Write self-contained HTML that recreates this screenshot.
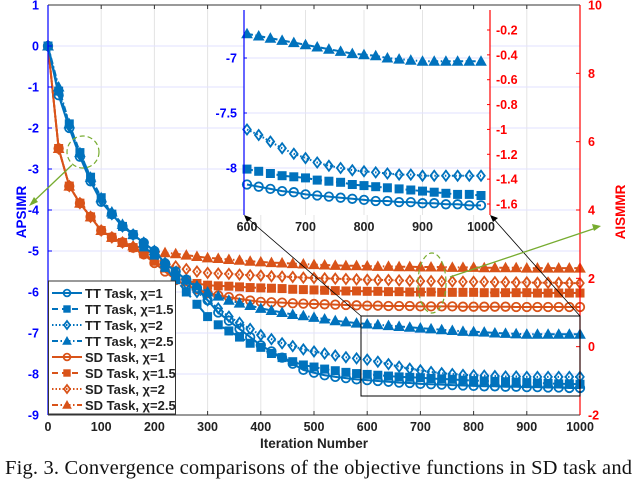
<!DOCTYPE html>
<html><head><meta charset="utf-8"><style>
body{margin:0;background:#fff;width:640px;height:480px;overflow:hidden}
svg{font-family:"Liberation Sans",sans-serif}
</style></head><body>
<svg id="chart" width="640" height="480" viewBox="0 0 640 480" xmlns="http://www.w3.org/2000/svg">
<g id="grid"></g>
<g id="series"></g>
<g id="axes"></g>
<g id="inset"></g>
<g id="legend"></g>
<g>
<rect x="361" y="316" width="219" height="80" fill="none" stroke="#000" stroke-width="1"/>
<line x1="361" y1="316" x2="246" y2="217" stroke="#000" stroke-width="0.8"/>
<line x1="580" y1="316" x2="492" y2="217" stroke="#000" stroke-width="0.8"/>
<polygon points="244,215 252,218 247,222" fill="#000"/>
<polygon points="490,215 498,218 493,222" fill="#000"/>
<ellipse cx="83" cy="152" rx="16" ry="16" fill="none" stroke="#77AC30" stroke-width="1.2" stroke-dasharray="5,3"/>
<line x1="72" y1="165" x2="33" y2="202" stroke="#77AC30" stroke-width="1.3"/>
<polygon points="29,206 34,197 38,202" fill="#77AC30"/>
<ellipse cx="432" cy="283" rx="14" ry="30" fill="none" stroke="#77AC30" stroke-width="1.2" stroke-dasharray="5,3"/>
<line x1="450" y1="277" x2="596" y2="228" stroke="#77AC30" stroke-width="1.3"/>
<polygon points="601,226 592,224 594,231" fill="#77AC30"/>
</g>
<text transform="translate(26,212) rotate(-90)" text-anchor="middle" font-size="13.5" font-weight="bold" fill="#0000FF">APSIMR</text>
<text transform="translate(625,212) rotate(-90)" text-anchor="middle" font-size="13.5" font-weight="bold" fill="#FF0000">AISMMR</text>
<text x="314" y="448" text-anchor="middle" font-size="13.5" font-weight="bold" fill="#222">Iteration Number</text>
<text x="5" y="474" font-family="Liberation Serif, serif" font-size="20.5" fill="#111" textLength="627" lengthAdjust="spacing">Fig. 3.  Convergence comparisons of the objective functions in SD task and</text>
</svg>
<script>
const iterations=[0,20,40,60,80,100,120,140,160,180,200,220,240,260,280,300,320,340,360,380,400,420,440,460,480,500,520,540,560,580,600,620,640,660,680,700,720,740,760,780,800,820,840,860,880,900,920,940,960,980,1000];
const tt1=[0,-1.2,-2.0,-2.7,-3.3,-3.8,-4.1,-4.4,-4.6,-4.8,-5.0,-5.3,-5.5,-5.7,-5.9,-6.2,-6.5,-6.7,-6.9,-7.1,-7.3,-7.45,-7.6,-7.75,-7.9,-7.97,-8.03,-8.07,-8.1,-8.13,-8.15,-8.17,-8.19,-8.21,-8.22,-8.24,-8.25,-8.26,-8.27,-8.28,-8.29,-8.3,-8.3,-8.31,-8.31,-8.32,-8.32,-8.33,-8.33,-8.34,-8.34];
const tt15=[0,-1.1,-1.9,-2.6,-3.2,-3.7,-4.1,-4.4,-4.6,-4.9,-5.1,-5.4,-5.7,-6.0,-6.3,-6.6,-6.8,-6.95,-7.1,-7.25,-7.35,-7.5,-7.6,-7.7,-7.78,-7.83,-7.88,-7.92,-7.96,-7.99,-8.01,-8.03,-8.05,-8.07,-8.08,-8.09,-8.11,-8.12,-8.13,-8.15,-8.16,-8.17,-8.18,-8.19,-8.2,-8.21,-8.22,-8.23,-8.24,-8.24,-8.25];
const tt2=[0,-1.1,-1.95,-2.65,-3.25,-3.75,-4.1,-4.4,-4.6,-4.8,-5.0,-5.3,-5.55,-5.8,-6.0,-6.2,-6.4,-6.6,-6.75,-6.9,-7.05,-7.15,-7.25,-7.32,-7.4,-7.45,-7.5,-7.55,-7.59,-7.62,-7.65,-7.7,-7.76,-7.82,-7.87,-7.91,-7.95,-7.98,-8.0,-8.02,-8.03,-8.04,-8.05,-8.06,-8.06,-8.07,-8.07,-8.07,-8.07,-8.07,-8.07];
const tt25=[0,-1.0,-1.9,-2.6,-3.2,-3.7,-4.05,-4.35,-4.6,-4.8,-5.0,-5.3,-5.5,-5.7,-5.85,-6.0,-6.1,-6.2,-6.27,-6.33,-6.4,-6.45,-6.5,-6.55,-6.58,-6.62,-6.66,-6.7,-6.73,-6.76,-6.78,-6.8,-6.82,-6.84,-6.86,-6.88,-6.9,-6.92,-6.94,-6.96,-6.97,-6.98,-7.0,-7.01,-7.02,-7.03,-7.03,-7.03,-7.03,-7.03,-7.03];
const sd1=[8.8,5.8,4.7,4.2,3.8,3.4,3.2,3.05,2.9,2.7,2.45,2.2,1.95,1.8,1.68,1.57,1.5,1.45,1.4,1.35,1.31,1.3,1.29,1.27,1.26,1.25,1.24,1.23,1.22,1.21,1.2,1.2,1.19,1.19,1.19,1.18,1.18,1.18,1.18,1.17,1.17,1.17,1.17,1.17,1.16,1.16,1.16,1.16,1.16,1.16,1.16];
const sd15=[8.8,5.8,4.7,4.2,3.8,3.4,3.2,3.05,2.9,2.72,2.5,2.3,2.1,1.95,1.85,1.8,1.78,1.77,1.75,1.73,1.72,1.71,1.7,1.68,1.67,1.66,1.65,1.64,1.63,1.63,1.62,1.62,1.61,1.61,1.6,1.6,1.6,1.59,1.59,1.59,1.59,1.58,1.58,1.58,1.58,1.58,1.57,1.57,1.57,1.57,1.57];
const sd2=[8.8,5.8,4.7,4.2,3.8,3.4,3.2,3.05,2.92,2.75,2.6,2.45,2.35,2.27,2.2,2.16,2.14,2.13,2.11,2.09,2.08,2.06,2.05,2.04,2.02,2.01,2.0,1.99,1.98,1.97,1.96,1.95,1.95,1.94,1.93,1.92,1.92,1.91,1.91,1.9,1.9,1.9,1.89,1.89,1.88,1.88,1.87,1.87,1.87,1.86,1.86];
const sd25=[8.8,5.8,4.7,4.2,3.8,3.4,3.2,3.05,2.95,2.87,2.8,2.75,2.72,2.68,2.64,2.6,2.58,2.55,2.53,2.5,2.48,2.46,2.45,2.43,2.42,2.4,2.39,2.38,2.37,2.37,2.36,2.35,2.35,2.34,2.34,2.33,2.33,2.33,2.32,2.32,2.32,2.31,2.31,2.31,2.31,2.3,2.3,2.3,2.3,2.3,2.3];
const xTicks=[0,100,200,300,400,500,600,700,800,900,1000];
const yLeftTicks=[1,0,-1,-2,-3,-4,-5,-6,-7,-8,-9];
const yRightTicks=[10,8,6,4,2,0,-2];
const insetXTicks=[600,700,800,900,1000];
const insetYLeftTicks=[-7,-7.5,-8];
const insetYRightTicks=[-0.2,-0.4,-0.6,-0.8,-1,-1.2,-1.4,-1.6];

const NS='http://www.w3.org/2000/svg';
const BLUE='#0072BD',ORANGE='#D95319';
const X0=48,X1=580,YT=5,YB=415;
const xs=v=>X0+(v/1000)*(X1-X0);
const yl=v=>YT+(1-v)/10*(YB-YT);
const yr=v=>YT+(10-v)/12*(YB-YT);
const IX0=244,IX1=490,IYT=10,IYB=215;
const ixs=v=>247+(v-600)/400*234;
const iyl=v=>58+(-7-v)*110;
const iyr=v=>30+(-0.2-v)/1.4*174;
const FS=12.5;
function mk(tag,attrs,parent){const e=document.createElementNS(NS,tag);for(const k in attrs)e.setAttribute(k,attrs[k]);parent.appendChild(e);return e;}
const grid=document.getElementById('grid'),axes=document.getElementById('axes'),ser=document.getElementById('series'),ins=document.getElementById('inset'),leg=document.getElementById('legend');

xTicks.forEach(t=>{const x=xs(t);
 if(t>0&&t<1000){const g=mk('line',{x1:x,y1:YT,x2:x,y2:YB,stroke:'#e4e4e4','stroke-width':1},grid);}
 mk('line',{x1:x,y1:YB,x2:x,y2:YB-4,stroke:'#333'},axes);mk('line',{x1:x,y1:YT,x2:x,y2:YT+4,stroke:'#333'},axes);
 const tx=mk('text',{x:x,y:YB+16,'text-anchor':'middle','font-size':FS,'font-weight':'bold',fill:'#222'},axes);tx.textContent=t;
 });
yLeftTicks.forEach(t=>{const y=yl(t);
 if(t<1&&t>-9){const g=mk('line',{x1:X0,y1:y,x2:X1,y2:y,stroke:'#e2e2ff','stroke-width':1},grid);}
 mk('line',{x1:X0,y1:y,x2:X0+4,y2:y,stroke:'#0000FF'},axes);
 const tx=mk('text',{x:X0-9,y:y+4.5,'text-anchor':'end','font-size':FS,'font-weight':'bold',fill:'#0000FF'},axes);tx.textContent=t;
 });
yRightTicks.forEach(t=>{const y=yr(t);
 mk('line',{x1:X1,y1:y,x2:X1-4,y2:y,stroke:'#FF0000'},axes);
 const tx=mk('text',{x:X1+8,y:y+4.5,'font-size':FS,'font-weight':'bold',fill:'#FF0000'},axes);tx.textContent=t;
 });
mk('line',{x1:X0,y1:YT,x2:X1,y2:YT,stroke:'#333'},axes);
mk('line',{x1:X0,y1:YB,x2:X1,y2:YB,stroke:'#333'},axes);
mk('line',{x1:X0,y1:YT,x2:X0,y2:YB,stroke:'#0000FF','stroke-width':1.2},axes);
mk('line',{x1:X1,y1:YT,x2:X1,y2:YB,stroke:'#FF0000','stroke-width':1.2},axes);

const dashes={solid:'',dash:'6,4',dot:'1.5,2',dashdot:'6,2.5,1.5,2.5'};
function marker(type,x,y,col,parent,s){
 let e;
 if(type==='circle')e=mk('circle',{cx:x,cy:y,r:s*0.85,fill:'none',stroke:col,'stroke-width':1.8},parent);
 else if(type==='square')e=mk('rect',{x:x-s*0.8,y:y-s*0.8,width:s*1.6,height:s*1.6,fill:col,stroke:col},parent);
 else if(type==='diamond')e=mk('polygon',{points:`${x},${y-s} ${x+s*0.75},${y} ${x},${y+s} ${x-s*0.75},${y}`,fill:'none',stroke:col,'stroke-width':1.8},parent);
 else e=mk('polygon',{points:`${x},${y-s} ${x+s},${y+s*0.8} ${x-s},${y+s*0.8}`,fill:col,stroke:col},parent);
 return e;}
function drawSeries(vals,fx,fy,col,dash,mtype,parent,name,s,start){
 const g=mk('g',{},parent);
 const pts=[];
 iterations.forEach((it,i)=>{if(it>=start&&vals[i]!==undefined)pts.push([fx(it),fy(vals[i])]);});
 mk('polyline',{points:pts.map(p=>p.join(',')).join(' '),fill:'none',stroke:col,'stroke-width':2,'stroke-dasharray':dashes[dash]},g);
 pts.forEach(p=>marker(mtype,p[0],p[1],col,g,s));}
const defs=[
 [sd1,yr,ORANGE,'solid','circle','sd-chi-1'],[sd15,yr,ORANGE,'dash','square','sd-chi-1-5'],[sd2,yr,ORANGE,'dot','diamond','sd-chi-2'],[sd25,yr,ORANGE,'dashdot','triangle','sd-chi-2-5'],
 [tt1,yl,BLUE,'solid','circle','tt-chi-1'],[tt15,yl,BLUE,'dash','square','tt-chi-1-5'],[tt2,yl,BLUE,'dot','diamond','tt-chi-2'],[tt25,yl,BLUE,'dashdot','triangle','tt-chi-2-5']];
defs.forEach(d=>drawSeries(d[0],xs,d[1],d[2],d[3],d[4],ser,'series-'+d[5],5,0));

// inset
const bg=mk('rect',{x:IX0,y:IYT,width:IX1-IX0,height:IYB-IYT,fill:'#fff'},ins);

insetXTicks.forEach(t=>{const x=ixs(t);
 if(t>600&&t<1000)mk('line',{x1:x,y1:IYT,x2:x,y2:IYB,stroke:'#e4e4e4'},ins);
 const tx=mk('text',{x:x,y:IYB+16,'text-anchor':'middle','font-size':FS,'font-weight':'bold',fill:'#222'},ins);tx.textContent=t;
 });
insetYLeftTicks.forEach(t=>{const y=iyl(t);
 mk('line',{x1:IX0,y1:y,x2:IX1,y2:y,stroke:'#e2e2ff'},ins);
 mk('line',{x1:IX0,y1:y,x2:IX0+3,y2:y,stroke:'#0000FF'},ins);
 const tx=mk('text',{x:IX0-7,y:y+4.5,'text-anchor':'end','font-size':FS,'font-weight':'bold',fill:'#0000FF'},ins);tx.textContent=t;
 });
insetYRightTicks.forEach(t=>{const y=iyr(t);
 mk('line',{x1:IX1,y1:y,x2:IX1-3,y2:y,stroke:'#FF0000'},ins);
 const tx=mk('text',{x:IX1+6,y:y+4.5,'font-size':FS,'font-weight':'bold',fill:'#FF0000'},ins);tx.textContent=t;
 });
defs.slice(4).forEach(d=>drawSeries(d[0],ixs,iyl,d[2],d[3],d[4],ins,'inset-series-'+d[5],5,600));
mk('line',{x1:IX0,y1:IYT,x2:IX0,y2:IYB,stroke:'#0000FF','stroke-width':1.2},ins);
mk('line',{x1:IX1,y1:IYT,x2:IX1,y2:IYB,stroke:'#FF0000','stroke-width':1.2},ins);

// legend
const lb=mk('rect',{x:48.5,y:281,width:127,height:133,fill:'#fff',stroke:'#333','stroke-width':1},leg);

const labels=['TT Task, ','TT Task, ','TT Task, ','TT Task, ','SD Task, ','SD Task, ','SD Task, ','SD Task, '];
const chis=['1','1.5','2','2.5','1','1.5','2','2.5'];
const order=[4,5,6,7,0,1,2,3];
order.forEach((di,i)=>{const d=defs[di];const y=293+i*16;
 const g=mk('g',{},leg);
 mk('line',{x1:52,y1:y,x2:82,y2:y,stroke:d[2],'stroke-width':2,'stroke-dasharray':dashes[d[3]]},g);
 marker(d[4],67,y,d[2],g,4);
 const t=mk('text',{x:85,y:y+5,'font-size':13,'font-weight':'bold',fill:'#222'},g);
 t.textContent=labels[i]+'\u03C7='+chis[i];});
</script>
</body></html>
